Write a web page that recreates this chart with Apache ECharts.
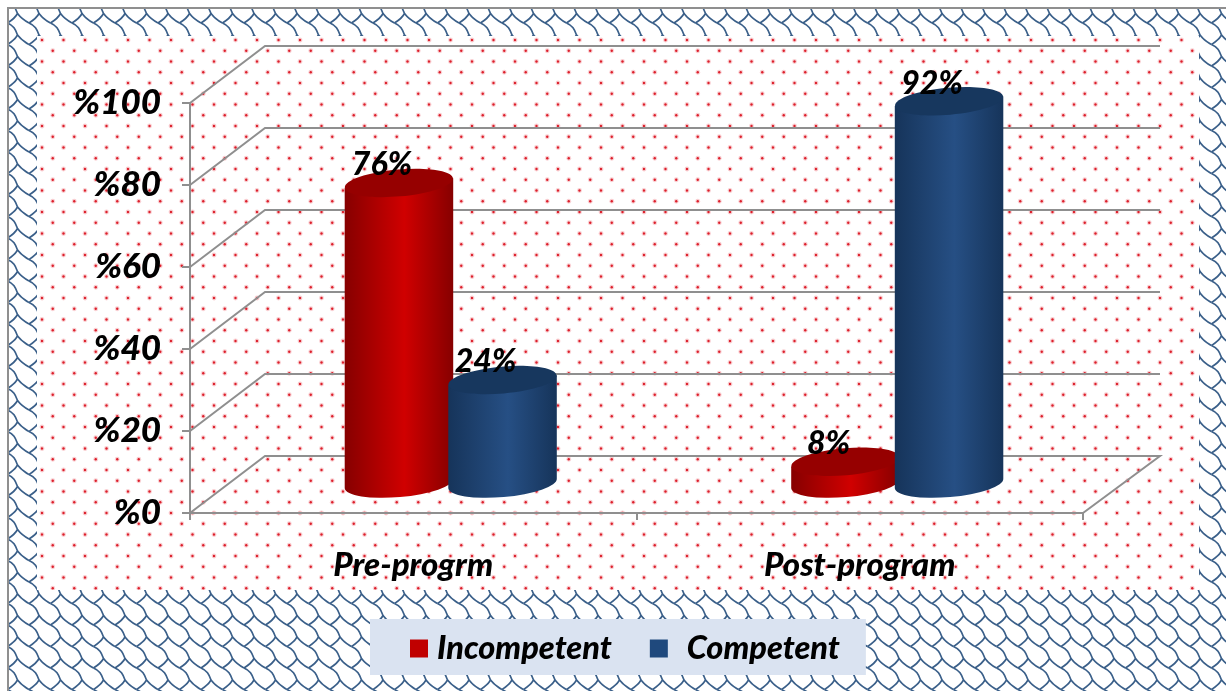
<!DOCTYPE html>
<html>
<head>
<meta charset="utf-8">
<style>
  html, body { margin: 0; padding: 0; background: #fff; }
  #chart { width: 1226px; height: 691px; }
</style>
<script src="https://cdn.jsdelivr.net/npm/echarts@6/dist/echarts.min.js"></script>
</head>
<body>
<div id="chart"></div>
<script>
const categories = ['Pre-progrm', 'Post-program'];
const incompetent = [76, 8];
const competent = [24, 92];
const yTicks = [0, 20, 40, 60, 80, 100];

const font = 'Lato';
const weight = 900;
const lineColor = '#8f8f8f';
// how far the back wall of the fake 3D box sits from the front axes
const depthX = 75;
const depthY = -57;

// red dots on white, for the inner panel
function dotTile() {
  const c = document.createElement('canvas');
  c.width = 43;
  c.height = 43;
  const ctx = c.getContext('2d');
  ctx.fillStyle = '#fff';
  ctx.fillRect(0, 0, 43, 43);
  for (let r = 0; r < 4; r++) {
    const y = 7.75 + r * 10.75;
    for (let k = -1; k < 3; k++) {
      const x = (r % 2 ? 20.5 : 9.75) + k * 21.5;
      ctx.fillStyle = 'rgba(230,60,70,0.25)';
      ctx.beginPath(); ctx.arc(x, y, 2.4, 0, Math.PI * 2); ctx.fill();
      ctx.fillStyle = '#dc1f2b';
      ctx.beginPath(); ctx.arc(x, y, 1.2, 0, Math.PI * 2); ctx.fill();
    }
  }
  return c;
}

// navy shingle lines, for the outer frame
function shingleTile() {
  const s = 21.5;
  const c = document.createElement('canvas');
  c.width = 43;
  c.height = 43;
  const ctx = c.getContext('2d');
  ctx.fillStyle = '#fff';
  ctx.fillRect(0, 0, 43, 43);
  ctx.strokeStyle = '#3a5f89';
  ctx.lineWidth = 1.7;
  for (let i = -2; i < 3; i++) {
    for (let j = -2; j < 3; j++) {
      const ox = i * s - 2.5;
      const oy = j * s - 3.5;
      ctx.beginPath();
      ctx.moveTo(ox + 10, oy + 5);
      ctx.bezierCurveTo(ox + 17, oy + 8, ox + 18, oy + 12, ox + 20, oy + 17);
      ctx.bezierCurveTo(ox + 23, oy + 21, ox + 27, oy + 24, ox + 31.5, oy + 26.5);
      ctx.moveTo(ox + 20, oy + 17);
      ctx.bezierCurveTo(ox + 18, oy + 21, ox + 14, oy + 24, ox + 10, oy + 26.5);
      ctx.stroke();
    }
  }
  return c;
}

// nudge: the picture's cylinders stop a few px off the printed value, red low and blue high
function cylinderRenderer(values, body, topColor, shift, nudge) {
  return function (params, api) {
    const i = api.value(0);
    const band = api.size([1, 0])[0];
    const w = band * 0.243;
    const rx = w / 2;
    const ry = 13.5;
    const tilt = 5 * Math.PI / 180;
    const dy = rx * Math.tan(tilt);
    const base = api.coord([i, 0]);
    const top = api.coord([i, api.value(1)]);
    const cx = base[0] + depthX / 2 + band * shift;
    const yBase = base[1] + depthY / 2 - 1;
    const yTop = top[1] + depthY / 2 + nudge;
    const d = 'M' + (cx - rx) + ' ' + (yTop + dy) +
      'L' + (cx - rx) + ' ' + (yBase + dy) +
      'A' + rx + ' ' + ry + ' -5 0 0 ' + (cx + rx) + ' ' + (yBase - dy) +
      'L' + (cx + rx) + ' ' + (yTop - dy) + 'Z';
    return {
      type: 'group',
      children: [
        {
          type: 'path',
          shape: { pathData: d },
          style: {
            fill: new echarts.graphic.LinearGradient(0, 0, 1, 0, [
              { offset: 0, color: body[0] },
              { offset: 0.55, color: body[1] },
              { offset: 1, color: body[0] }
            ])
          }
        },
        {
          type: 'ellipse',
          x: cx,
          y: yTop,
          rotation: tilt,
          shape: { cx: 0, cy: 0, rx: rx, ry: ry },
          style: { fill: topColor }
        },
        {
          type: 'text',
          x: cx - 17,
          y: yTop - 18,
          style: {
            text: values[i] + '%',
            font: 'italic ' + weight + ' 32px ' + font,
            fill: '#000',
            align: 'center',
            verticalAlign: 'middle'
          }
        }
      ]
    };
  };
}

function renderWallLine(params, api) {
  const sys = params.coordSys;
  const v = api.value(1);
  const y = api.coord([0, v])[1];
  const x0 = sys.x;
  const x1 = sys.x + sys.width;
  // back wall runs a touch further right than the front axis plus depth
  const pts = [[x0, y], [x0 + depthX, y + depthY], [x1 + depthX + 2, y + depthY]];
  if (v === 0) pts.push([x1, y]);
  return {
    type: 'polyline',
    shape: { points: pts },
    style: { fill: 'none', stroke: lineColor, lineWidth: 2 }
  };
}

const chart = echarts.init(document.getElementById('chart'));

const legendText = { fontFamily: font, fontStyle: 'italic', fontWeight: weight, fontSize: 32.5, color: '#000' };

chart.setOption({
  animation: false,
  graphic: [
    { type: 'rect', z: -10, shape: { x: 9, y: 9, width: 1217, height: 682 }, style: { fill: { image: shingleTile(), repeat: 'repeat' } } },
    { type: 'rect', z: -9, shape: { x: 37, y: 36, width: 1162, height: 554 }, style: { fill: { image: dotTile(), repeat: 'repeat' } } },
    { type: 'polyline', z: -8, shape: { points: [[8, 691], [8, 8], [1226, 8]] }, style: { fill: 'none', stroke: lineColor, lineWidth: 2 } }
  ],
  grid: { left: 190, top: 103, width: 893, height: 410 },
  legend: {
    left: 370,
    top: 619,
    padding: [13, 26, 10, 40],
    backgroundColor: '#dae3f1',
    icon: 'rect',
    itemWidth: 18,
    itemHeight: 18,
    itemGap: 38,
    data: ['Incompetent', 'Competent'],
    formatter: name => (name === 'Competent' ? '{b|' + name + '}' : '{a|' + name + '}'),
    textStyle: {
      ...legendText,
      rich: {
        a: { ...legendText, padding: [0, 0, 0, 4] },
        b: { ...legendText, padding: [0, 0, 0, 14] }
      }
    }
  },
  xAxis: {
    type: 'category',
    data: categories,
    axisLine: { lineStyle: { color: lineColor, width: 2 } },
    axisTick: { show: true, length: 7, lineStyle: { color: lineColor, width: 2 } },
    axisLabel: { margin: 36, fontFamily: font, fontStyle: 'italic', fontWeight: weight, fontSize: 33, color: '#000' }
  },
  yAxis: {
    type: 'value',
    min: 0,
    max: 100,
    interval: 20,
    splitLine: { show: false },
    axisLine: { show: true, lineStyle: { color: lineColor, width: 2 } },
    axisTick: { show: true, length: 8, lineStyle: { color: lineColor, width: 2 } },
    axisLabel: { margin: 29, padding: [8, 0, 0, 0], formatter: v => '%' + v, fontFamily: font, fontStyle: 'italic', fontWeight: weight, fontSize: 35, color: '#000' }
  },
  series: [
    {
      name: 'walls',
      type: 'custom',
      silent: true,
      z: 1,
      data: yTicks.map(v => [0, v]),
      renderItem: renderWallLine
    },
    {
      name: 'Incompetent',
      type: 'custom',
      z: 3,
      itemStyle: { color: '#c00000' },
      data: incompetent.map((v, i) => [i, v]),
      renderItem: cylinderRenderer(incompetent, ['#860000', '#d00000'], '#960000', -0.116, 10)
    },
    {
      name: 'Competent',
      type: 'custom',
      z: 4,
      itemStyle: { color: '#1f497d' },
      data: competent.map((v, i) => [i, v]),
      renderItem: cylinderRenderer(competent, ['#16345a', '#264f84'], '#17375e', 0.116, -6)
    }
  ]
});
</script>
</body>
</html>
